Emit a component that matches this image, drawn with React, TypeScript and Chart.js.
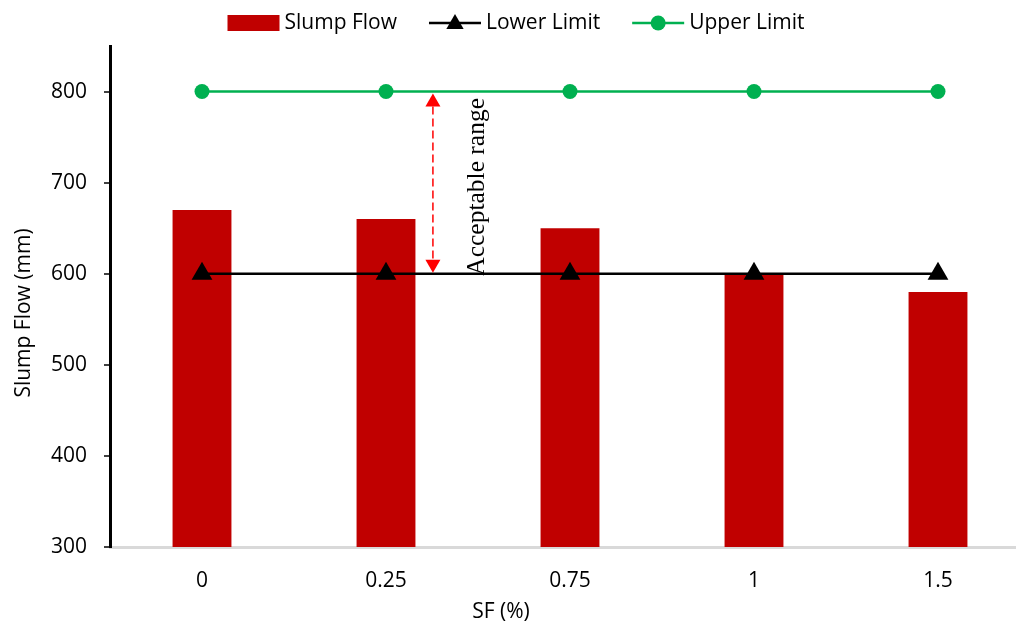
import { useEffect, useRef } from "react";
import { Chart, registerables } from "chart.js";

Chart.register(...registerables);

// Silica fume content (%) on the x axis
const categories = ["0", "0.25", "0.75", "1", "1.5"];
// Measured slump flow (mm)
const slumpFlow = [670, 660, 650, 600, 580];
// Acceptance limits (mm)
const lowerLimit = [600, 600, 600, 600, 600];
const upperLimit = [800, 800, 800, 800, 800];
// Value axis
const yTicks = [300, 400, 500, 600, 700, 800];
const yMin = 300;
const yMax = 850;

const FONT = '"Open Sans", sans-serif';
const FONT_SIZE = 21;
const TEXT = "#000000";
const BAR_RED = "#c00000";
const LIMIT_GREEN = "#00b050";

function drawTriangle(ctx: CanvasRenderingContext2D, cx: number, cy: number, r: number) {
  const s = Math.sin(Math.PI / 3) * r;
  ctx.beginPath();
  ctx.moveTo(cx, cy - r);
  ctx.lineTo(cx + s, cy + r / 2);
  ctx.lineTo(cx - s, cy + r / 2);
  ctx.closePath();
  ctx.fill();
}

// Legend row, axis titles and the "Acceptable range" arrow
const decorations = {
  id: "decorations",
  afterDraw(chart: Chart) {
    const ctx = chart.ctx;
    const x = chart.scales.x;
    const y = chart.scales.y;
    ctx.save();

    // ---- legend ----
    ctx.font = `${FONT_SIZE}px ${FONT}`;
    ctx.textBaseline = "middle";
    ctx.textAlign = "left";
    const labels = chart.data.datasets.map((d) => String(d.label));
    const swatch = 52;
    const textGap = 5;
    const itemGap = 32;
    const widths = labels.map((l) => ctx.measureText(l).width);
    const total =
      widths.reduce((a, b) => a + b, 0) + labels.length * (swatch + textGap) + (labels.length - 1) * itemGap;
    let lx = 516 - total / 2;
    const ly = 23;
    labels.forEach((label, i) => {
      if (i === 0) {
        ctx.fillStyle = BAR_RED;
        ctx.fillRect(lx, ly - 8, swatch, 16);
      } else {
        const color = i === 1 ? "#000000" : LIMIT_GREEN;
        ctx.strokeStyle = color;
        ctx.lineWidth = i === 1 ? 2.5 : 2.5;
        ctx.beginPath();
        ctx.moveTo(lx, ly);
        ctx.lineTo(lx + swatch, ly);
        ctx.stroke();
        ctx.fillStyle = color;
        if (i === 1) {
          drawTriangle(ctx, lx + swatch / 2, ly + 1, 10);
        } else {
          ctx.beginPath();
          ctx.arc(lx + swatch / 2, ly, 7.5, 0, Math.PI * 2);
          ctx.fill();
        }
      }
      ctx.fillStyle = TEXT;
      ctx.fillText(label, lx + swatch + textGap, ly);
      lx += swatch + textGap + widths[i] + itemGap;
    });

    // ---- axis titles ----
    ctx.fillStyle = TEXT;
    ctx.font = `${FONT_SIZE}px ${FONT}`;
    ctx.textAlign = "center";
    ctx.textBaseline = "alphabetic";
    ctx.fillText("SF (%)", 501, 618);

    ctx.save();
    ctx.translate(30, 313);
    ctx.rotate(-Math.PI / 2);
    ctx.fillText("Slump Flow (mm)", 0, 0);
    ctx.restore();

    // ---- acceptable range arrow ----
    const step = x.getPixelForValue(2) - x.getPixelForValue(1);
    const ax = x.getPixelForValue(1) + step * 0.255;
    const yTop = y.getPixelForValue(upperLimit[1]) + 2;
    const yBot = y.getPixelForValue(lowerLimit[1]) - 1;
    const headH = 13;
    const headW = 7.5;
    ctx.strokeStyle = "#ff0000";
    ctx.fillStyle = "#ff0000";
    ctx.lineWidth = 1.5;
    ctx.setLineDash([8, 4]);
    ctx.beginPath();
    ctx.moveTo(ax, yTop + headH);
    ctx.lineTo(ax, yBot - headH);
    ctx.stroke();
    ctx.setLineDash([]);
    ctx.beginPath();
    ctx.moveTo(ax, yTop);
    ctx.lineTo(ax + headW, yTop + headH);
    ctx.lineTo(ax - headW, yTop + headH);
    ctx.closePath();
    ctx.fill();
    ctx.beginPath();
    ctx.moveTo(ax, yBot);
    ctx.lineTo(ax + headW, yBot - headH);
    ctx.lineTo(ax - headW, yBot - headH);
    ctx.closePath();
    ctx.fill();

    // rotated caption beside the arrow
    const tx = x.getPixelForValue(1) + step * 0.533;
    ctx.save();
    ctx.translate(tx, y.getPixelForValue(lowerLimit[1]) + 2);
    ctx.rotate(-Math.PI / 2);
    ctx.font = `25.5px "Liberation Serif", "Times New Roman", serif`;
    ctx.textAlign = "left";
    ctx.textBaseline = "alphabetic";
    ctx.fillStyle = TEXT;
    ctx.fillText("Acceptable range", 0, 0);
    ctx.restore();

    ctx.restore();
  },
};

export default function App() {
  const canvasRef = useRef<HTMLCanvasElement | null>(null);

  useEffect(() => {
    const canvas = canvasRef.current;
    if (!canvas) return;
    const chart = new Chart(canvas, {
      type: "bar",
      data: {
        labels: categories,
        datasets: [
          {
            type: "bar",
            label: "Slump Flow",
            data: slumpFlow,
            backgroundColor: BAR_RED,
            borderWidth: 0,
            categoryPercentage: 1,
            barPercentage: 0.32,
            order: 2,
          },
          {
            type: "line",
            label: "Lower Limit",
            data: lowerLimit,
            borderColor: "#000000",
            borderWidth: 2.5,
            pointStyle: "triangle",
            pointRadius: 12,
            pointBackgroundColor: "#000000",
            pointBorderColor: "#000000",
            pointBorderWidth: 0,
            order: 1,
          },
          {
            type: "line",
            label: "Upper Limit",
            data: upperLimit,
            borderColor: LIMIT_GREEN,
            borderWidth: 2.5,
            pointStyle: "circle",
            pointRadius: 7.5,
            pointBackgroundColor: LIMIT_GREEN,
            pointBorderColor: LIMIT_GREEN,
            pointBorderWidth: 0,
            order: 0,
          },
        ],
      },
      options: {
        animation: false,
        responsive: true,
        maintainAspectRatio: false,
        events: [],
        layout: { padding: { top: 46, right: 15, bottom: 0, left: 0 } },
        plugins: {
          legend: { display: false },
          tooltip: { enabled: false },
          title: { display: false },
        },
        scales: {
          x: {
            type: "category",
            offset: true,
            grid: { display: false, drawTicks: false },
            border: { display: true, color: "#d9d9d9", width: 3 },
            ticks: {
              color: TEXT,
              font: { family: FONT, size: FONT_SIZE },
              padding: 21,
              maxRotation: 0,
            },
            afterFit: (scale: any) => {
              scale.height = 77;
            },
          },
          y: {
            type: "linear",
            min: yMin,
            max: yMax,
            grid: {
              display: true,
              drawOnChartArea: false,
              drawTicks: true,
              tickLength: 6,
              tickColor: "#404040",
              lineWidth: 2,
            },
            border: { display: true, color: "#000000", width: 3 },
            ticks: {
              color: TEXT,
              font: { family: FONT, size: FONT_SIZE },
              padding: 17,
            },
            afterBuildTicks: (scale: any) => {
              scale.ticks = yTicks.map((v) => ({ value: v }));
            },
            afterFit: (scale: any) => {
              scale.width = 110;
            },
          },
        },
      },
      plugins: [decorations],
    });
    return () => chart.destroy();
  }, []);

  return (
    <div
      style={{
        position: "fixed",
        left: 0,
        top: 0,
        width: 1016,
        height: 624,
        overflow: "hidden",
        background: "#ffffff",
      }}
    >
      <div style={{ position: "absolute", left: 0, top: 0, width: 1045, height: 624 }}>
        <canvas ref={canvasRef} />
      </div>
    </div>
  );
}
